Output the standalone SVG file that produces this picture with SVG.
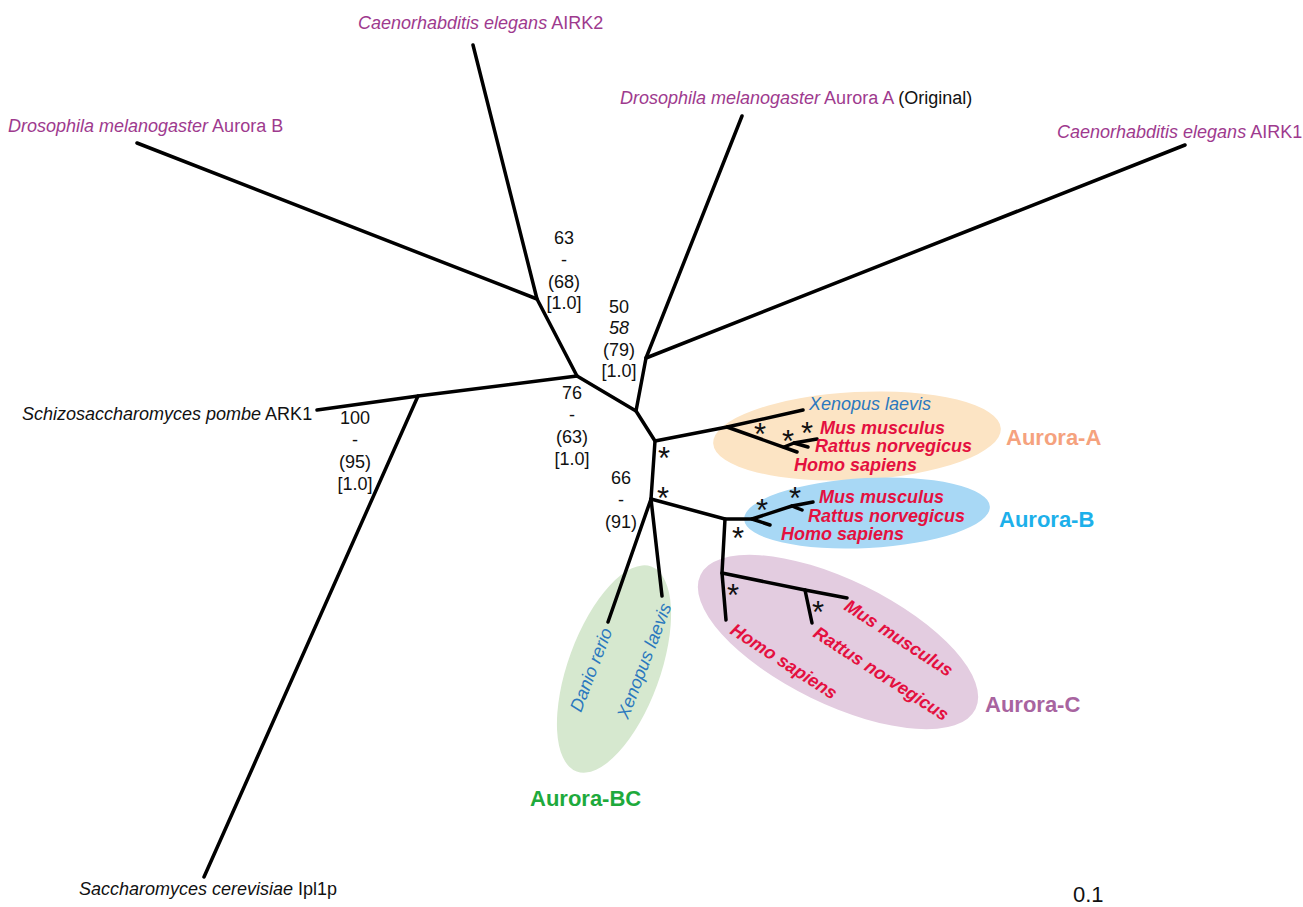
<svg xmlns="http://www.w3.org/2000/svg" width="1303" height="907" viewBox="0 0 1303 907">
<style>
text{font-family:"Liberation Sans",Arial,sans-serif;}
.lab{font-size:18px;}
.pur{fill:#9E3A8E;}
.blk{fill:#111;}
.it{font-style:italic;}
.red{fill:#E4103F;font-size:18px;font-weight:bold;font-style:italic;}
.blu{fill:#2B78BE;font-size:18px;font-style:italic;}
.num{font-size:18px;fill:#111;text-anchor:middle;}
.ast{font-size:31px;fill:#111;text-anchor:middle;}
.clade{font-size:22px;font-weight:bold;}
.br{stroke:#000;stroke-width:3.5;stroke-linecap:round;stroke-linejoin:round;fill:none;}
</style>
<rect width="1303" height="907" fill="#fff"/>
<g id="clade-ellipses">
<ellipse id="ell-A" cx="857" cy="436" rx="144" ry="44" transform="rotate(-3 857 436)" fill="#FCE4C4"/>
<ellipse id="ell-B" cx="867" cy="513" rx="123" ry="35" transform="rotate(-3 867 513)" fill="#A8D8F5"/>
<ellipse id="ell-C" cx="838" cy="642" rx="153" ry="62" transform="rotate(26 838 642)" fill="#E3CCE0"/>
<ellipse id="ell-BC" cx="614" cy="669" rx="46" ry="109" transform="rotate(20 614 669)" fill="#D6E8CF"/>
</g>
<g id="connectors">
<polyline class="br" points="137,143 537,299 577,376"/>
<line class="br" x1="473" y1="45" x2="537" y2="299"/>
<polyline class="br" points="577,376 418,396 317,410"/>
<line class="br" x1="418" y1="396" x2="204" y2="877"/>
<polyline class="br" points="577,376 636,411 646,358 742,116"/>
<line class="br" x1="646" y1="358" x2="1185" y2="145"/>
<polyline class="br" points="636,411 655,441 651,499"/>
<polyline class="br" points="655,441 727,427 803,410"/>
<line class="br" x1="727" y1="427" x2="797" y2="452"/>
<polyline class="br" points="784,447 794,443 817,439"/>
<line class="br" x1="794" y1="443" x2="808" y2="447"/>
<line class="br" x1="651" y1="499" x2="608" y2="622"/>
<line class="br" x1="651" y1="499" x2="662" y2="596"/>
<polyline class="br" points="651,499 725,519 752,519 770,525"/>
<polyline class="br" points="752,519 792,506 813,502"/>
<line class="br" x1="792" y1="506" x2="802" y2="510"/>
<polyline class="br" points="725,519 722,573 726,620"/>
<polyline class="br" points="722,573 805,590 847,598"/>
<line class="br" x1="805" y1="590" x2="812" y2="623"/>
</g>
<g id="support-values">
<g id="sv-n1"><text class="num" x="564" y="244">63</text><text class="num" x="564" y="266">-</text><text class="num" x="564" y="288">(68)</text><text class="num" x="564" y="309">[1.0]</text></g>
<g id="sv-n5"><text class="num" x="619" y="313">50</text><text class="num it" x="619" y="334">58</text><text class="num" x="619" y="356">(79)</text><text class="num" x="619" y="377">[1.0]</text></g>
<g id="sv-n2"><text class="num" x="572" y="399">76</text><text class="num" x="572" y="421">-</text><text class="num" x="572" y="443">(63)</text><text class="num" x="572" y="465">[1.0]</text></g>
<g id="sv-n7"><text class="num" x="621" y="484">66</text><text class="num" x="621" y="506">-</text><text class="num" x="621" y="528">(91)</text></g>
<g id="sv-n3"><text class="num" x="355" y="424">100</text><text class="num" x="355" y="446">-</text><text class="num" x="355" y="468">(95)</text><text class="num" x="355" y="490">[1.0]</text></g>
</g>
<g id="asterisks">
<text class="ast" x="664" y="469">*</text>
<text class="ast" x="663" y="509">*</text>
<text class="ast" x="760" y="445">*</text>
<text class="ast" x="788" y="452">*</text>
<text class="ast" x="807" y="444">*</text>
<text class="ast" x="762" y="521">*</text>
<text class="ast" x="795" y="509">*</text>
<text class="ast" x="738" y="549">*</text>
<text class="ast" x="733" y="606">*</text>
<text class="ast" x="818" y="623">*</text>
</g>
<g id="leaf-ce-airk2"><text class="lab pur" x="358" y="29"><tspan class="it">Caenorhabditis elegans</tspan> AIRK2</text></g>
<g id="leaf-dm-aurb"><text class="lab pur" x="8" y="132"><tspan class="it">Drosophila melanogaster</tspan> Aurora B</text></g>
<g id="leaf-dm-aura"><text class="lab pur" x="620" y="104"><tspan class="it">Drosophila melanogaster</tspan> Aurora A <tspan class="blk">(Original)</tspan></text></g>
<g id="leaf-ce-airk1"><text class="lab pur" x="1057" y="138"><tspan class="it">Caenorhabditis elegans</tspan> AIRK1</text></g>
<g id="leaf-sp-ark1"><text class="lab blk" x="22" y="420"><tspan class="it">Schizosaccharomyces pombe</tspan> ARK1</text></g>
<g id="leaf-sc-ipl1p"><text class="lab blk" x="79" y="895"><tspan class="it">Saccharomyces cerevisiae</tspan> Ipl1p</text></g>
<g id="aurora-a">
<text class="blu" x="809" y="410">Xenopus laevis</text>
<text class="red" x="820" y="434">Mus musculus</text>
<text class="red" x="815" y="452">Rattus norvegicus</text>
<text class="red" x="794" y="471">Homo sapiens</text>
<text class="clade" x="1006" y="445" fill="#F5A27E">Aurora-A</text>
</g>
<g id="aurora-b">
<text class="red" x="819" y="503">Mus musculus</text>
<text class="red" x="808" y="522">Rattus norvegicus</text>
<text class="red" x="781" y="540">Homo sapiens</text>
<text class="clade" x="999" y="527" fill="#1DB0EA">Aurora-B</text>
</g>
<g id="aurora-c">
<text class="red" transform="translate(843,609) rotate(33)">Mus musculus</text>
<text class="red" transform="translate(812,636) rotate(33)">Rattus norvegicus</text>
<text class="red" transform="translate(729,633) rotate(33)">Homo sapiens</text>
<text class="clade" x="985" y="712" fill="#A8649F">Aurora-C</text>
</g>
<g id="aurora-bc">
<text class="blu" transform="translate(581,713) rotate(-69)">Danio rerio</text>
<text class="blu" transform="translate(628,720) rotate(-69)">Xenopus laevis</text>
<text class="clade" x="530" y="806" fill="#1EAA3C">Aurora-BC</text>
</g>
<g id="scale"><text x="1073" y="902" font-size="22" fill="#111">0.1</text></g>
</svg>
